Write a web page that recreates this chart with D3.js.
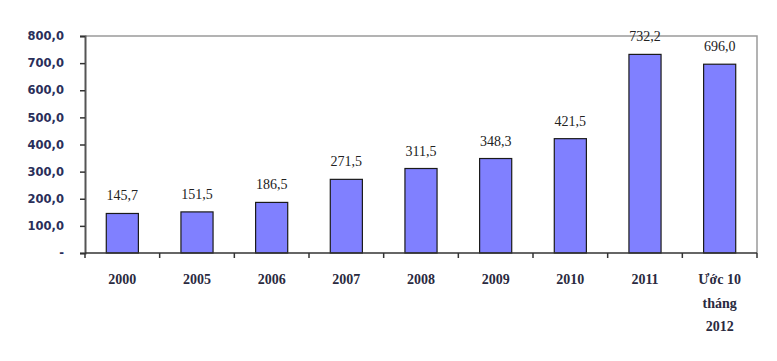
<!DOCTYPE html>
<html>
<head>
<meta charset="utf-8">
<script src="https://cdn.jsdelivr.net/npm/d3@7"></script>
<style>
  body { margin: 0; background: #fff; }
</style>
</head>
<body>
<svg width="777" height="361"></svg>
<script>
const categories = ["2000", "2005", "2006", "2007", "2008", "2009", "2010", "2011", "Ước 10|tháng|2012"];
const values = [145.7, 151.5, 186.5, 271.5, 311.5, 348.3, 421.5, 732.2, 696.0];
const yTicks = [0, 100, 200, 300, 400, 500, 600, 700, 800];

const svg = d3.select("svg");
const margin = { left: 85, top: 36, right: 20, bottom: 108 };
const width = 777 - margin.left - margin.right;
const height = 361 - margin.top - margin.bottom;

const fmt = v => v === 0 ? "-" : d3.format(".1f")(v).replace(".", ",");

const x = d3.scaleBand().domain(categories).range([0, width]).paddingInner(0.57).paddingOuter(0.285);
const y = d3.scaleLinear().domain([0, 800]).range([height, 0]);

const g = svg.append("g").attr("transform", `translate(${margin.left},${margin.top})`);

// plot frame (top and right)
g.append("path")
  .attr("d", `M0,0H${width}V${height}`)
  .attr("fill", "none")
  .attr("stroke", "#9a9a9a")
  .attr("stroke-width", 1.5);

// bars
g.selectAll("rect.bar")
  .data(values)
  .join("rect")
  .attr("class", "bar")
  .attr("x", (d, i) => x(categories[i]))
  .attr("y", d => y(d))
  .attr("width", x.bandwidth())
  .attr("height", d => y(0) - y(d))
  .attr("fill", "#8080ff")
  .attr("stroke", "#1a1a1a")
  .attr("stroke-width", 1.2);

// value labels
g.selectAll("text.val")
  .data(values)
  .join("text")
  .attr("class", "val")
  .attr("x", (d, i) => x(categories[i]) + x.bandwidth() / 2)
  .attr("y", d => y(d) - 13)
  .attr("text-anchor", "middle")
  .attr("font-family", "Liberation Serif, Times New Roman, serif")
  .attr("font-size", 14)
  .attr("fill", "#222")
  .text(fmt);

// y axis
const yAxis = g.append("g")
  .call(d3.axisLeft(y).tickValues(yTicks).tickFormat(fmt).tickSize(5).tickPadding(16));
yAxis.select(".domain").attr("stroke", "#555").attr("stroke-width", 2);
yAxis.selectAll(".tick line").attr("stroke", "#333").attr("stroke-width", 1.5);
yAxis.selectAll(".tick text")
  .attr("font-family", "DejaVu Sans, Verdana, sans-serif")
  .attr("font-size", 11.5)
  .attr("font-weight", "bold")
  .attr("fill", "#2a2f5a");

// x axis
const xBounds = d3.range(categories.length + 1).map(i => i * width / categories.length);
const xg = g.append("g").attr("transform", `translate(0,${height})`);
xg.append("line").attr("x1", 0).attr("x2", width)
  .attr("stroke", "#333").attr("stroke-width", 1.5);
xg.selectAll("line.tk")
  .data(xBounds)
  .join("line")
  .attr("class", "tk")
  .attr("x1", d => d).attr("x2", d => d)
  .attr("y1", 0).attr("y2", 5)
  .attr("stroke", "#333").attr("stroke-width", 1.5);

const xl = xg.selectAll("text.cat")
  .data(categories)
  .join("text")
  .attr("class", "cat")
  .attr("transform", d => `translate(${x(d) + x.bandwidth() / 2},31)`)
  .attr("text-anchor", "middle")
  .attr("font-family", "Liberation Serif, Times New Roman, serif")
  .attr("font-size", 14)
  .attr("font-weight", "bold")
  .attr("fill", "#2a2a40");
xl.selectAll("tspan")
  .data(d => d.split("|"))
  .join("tspan")
  .attr("x", 0)
  .attr("dy", (d, i) => i === 0 ? 0 : 23.5)
  .text(d => d);
</script>
</body>
</html>
